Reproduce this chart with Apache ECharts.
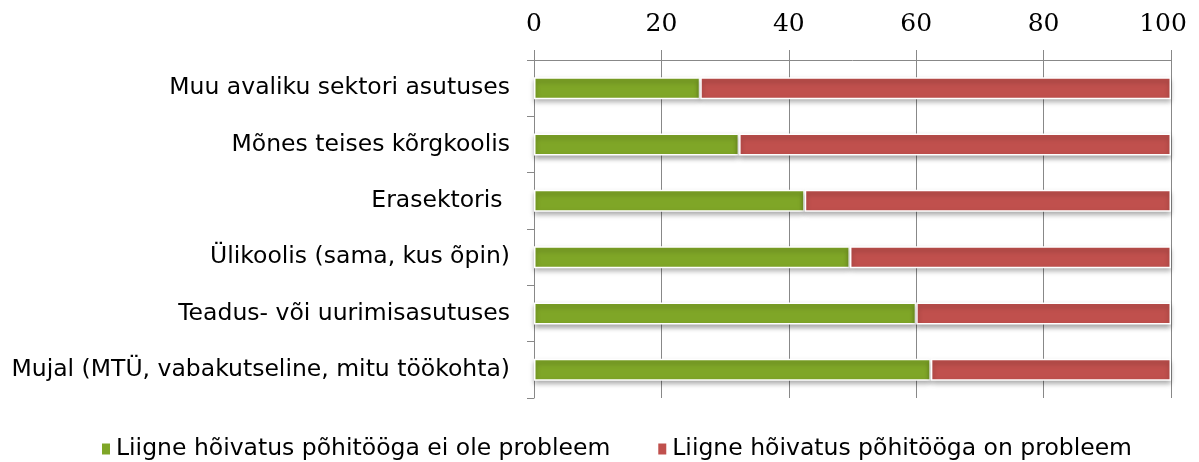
<!DOCTYPE html>
<html><head><meta charset="utf-8">
<script src="https://cdn.jsdelivr.net/npm/echarts@6/dist/echarts.min.js"></script>
<style>html,body{margin:0;padding:0;background:#fff}#c{width:1199px;height:462px}</style>
</head><body><div id="c"></div>
<script>
const categories = [
  'Muu avaliku sektori asutuses',
  'Mõnes teises kõrgkoolis',
  'Erasektoris ',
  'Ülikoolis (sama, kus õpin)',
  'Teadus- või uurimisasutuses',
  'Mujal (MTÜ, vabakutseline, mitu töökohta)'
];
const seriesNames = ['Liigne hõivatus põhitööga ei ole probleem', 'Liigne hõivatus põhitööga on probleem'];
const notProblem = [26.1, 32.2, 42.5, 49.6, 60.0, 62.3];
const problem = [73.9, 67.8, 57.5, 50.4, 40.0, 37.7];
const xTicks = [0, 20, 40, 60, 80, 100];

const chart = echarts.init(document.getElementById('c'));
const barStyle = (color) => ({
  color: color,
  borderColor: '#ffffff',
  borderWidth: 1.5,
  shadowColor: 'rgba(0,0,0,0.35)',
  shadowBlur: 5,
  shadowOffsetY: 3
});
const maxTick = xTicks[xTicks.length-1];
chart.setOption({
  animation: false,
  grid: { left: 534, right: 28, top: 60, bottom: 64 },
  legend: {
    bottom: -4,
    left: 95,
    padding: 5,
    itemWidth: 10, itemHeight: 13, itemGap: 46,
    icon: 'rect',
    textStyle: { fontFamily: 'DejaVu Sans', fontSize: 23.5, color: '#000' },
    data: seriesNames
  },
  xAxis: {
    type: 'value', position: 'top', min: xTicks[0], max: maxTick, interval: 20,
    axisLine: { show: true, lineStyle: { color: '#888', width: 1 } },
    axisTick: { show: true, length: 10, lineStyle: { color: '#888' } },
    splitLine: { show: true, lineStyle: { color: '#888', width: 1 } },
    axisLabel: {
      fontFamily: 'DejaVu Serif', fontSize: 25, color: '#000', margin: 23,
      formatter: v => v === maxTick ? '{m|' + v + '}' : String(v),
      rich: { m: { fontFamily: 'DejaVu Serif', fontSize: 25, color: '#000', padding: [0, 16, 0, 0] } }
    }
  },
  yAxis: {
    type: 'category', inverse: true, data: categories,
    axisLine: { show: true, lineStyle: { color: '#888' } },
    axisTick: { show: true, length: 7, lineStyle: { color: '#888' } },
    axisLabel: { fontFamily: 'DejaVu Sans', fontSize: 23.5, color: '#000', margin: 24 }
  },
  series: [
    { name: seriesNames[0], type: 'bar', stack: 't', data: notProblem, barWidth: 22, itemStyle: barStyle('#7fa627') },
    { name: seriesNames[1], type: 'bar', stack: 't', data: problem, barWidth: 22, itemStyle: barStyle('#c0504d') }
  ]
});
</script></body></html>
